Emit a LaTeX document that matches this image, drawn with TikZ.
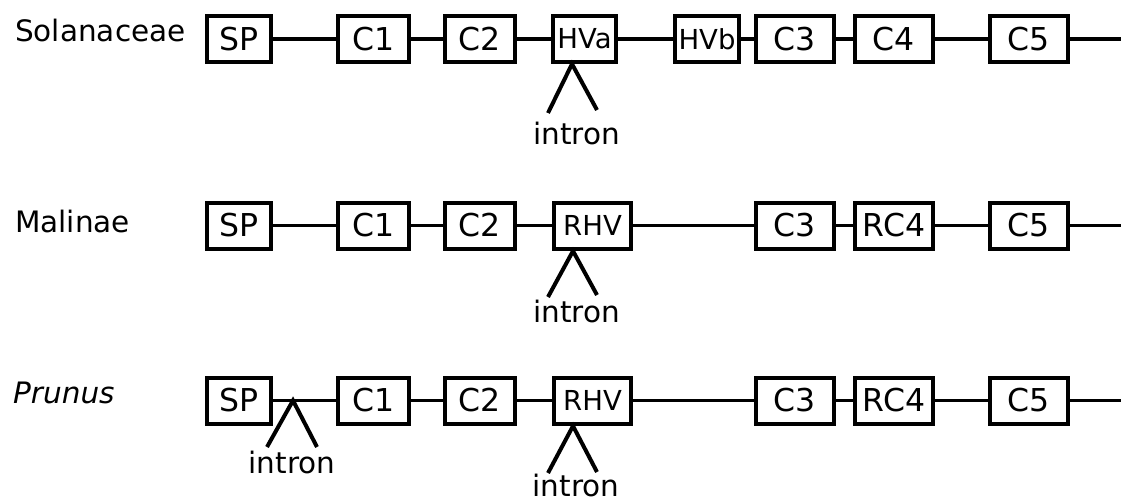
\documentclass[tikz,border=0pt]{standalone}
\usepackage{fontspec}
\setmainfont{DejaVu Sans}
\begin{document}
\begin{tikzpicture}[x=1pt,y=-1pt,
 gbox/.style={draw,line width=4pt,inner sep=0pt,minimum height=46pt,font=\fontsize{31.5}{36}\selectfont},
 hbox/.style={gbox,font=\fontsize{27.5}{32}\selectfont},
 link/.style={line width=3.5pt},
 leg/.style={line width=4pt},
 lbl/.style={anchor=base west,inner sep=0pt,font=\fontsize{29.5}{35}\selectfont},
 itxt/.style={anchor=base,inner sep=0pt,font=\fontsize{29.5}{35}\selectfont}]
\useasboundingbox (0,0) rectangle (1121,500);

% ---------- Row 1: Solanaceae ----------
\node[lbl] (l1) at (15,42) {Solanaceae};
\node[gbox,minimum width=64pt] (sp1) at (239,39) {SP};
\node[gbox,minimum width=71pt] (ca1) at (373.5,39) {C1};
\node[gbox,minimum width=70pt] (cb1) at (480,39) {C2};
\node[hbox,minimum width=63pt] (hva) at (584.5,39) {HVa};
\node[hbox,minimum width=64pt] (hvb) at (707,39) {HVb};
\node[gbox,minimum width=78pt] (cc1) at (795,39) {C3};
\node[gbox,minimum width=78pt] (cd1) at (894,39) {C4};
\node[gbox,minimum width=78pt] (ce1) at (1029,39) {C5};
\coordinate (e1) at (1121,39);
\draw[link] (sp1) -- (ca1);
\draw[link] (ca1) -- (cb1);
\draw[link] (cb1) -- (hva);
\draw[link] (hva) -- (hvb);
\draw[link] (hvb) -- (cc1);
\draw[link] (cc1) -- (cd1);
\draw[link] (cd1) -- (ce1);
\draw[link] (ce1.east) -- (e1);
\coordinate (ap1) at (572,64);
\coordinate (la1) at (548,113);
\coordinate (lb1) at (597,110);
\draw[leg] (la1) -- (ap1) -- (lb1);
\node[itxt] (it1) at (576.5,144) {intron};

% ---------- Row 2: Malinae ----------
\node[lbl] (l2) at (15,232) {Malinae};
\node[gbox,minimum width=64pt] (sp2) at (239,225.5) {SP};
\node[gbox,minimum width=71pt] (ca2) at (373.5,225.5) {C1};
\node[gbox,minimum width=70pt] (cb2) at (480,225.5) {C2};
\node[hbox,minimum width=77pt] (rh2) at (592.5,225.5) {RHV};
\node[gbox,minimum width=78pt] (cc2) at (795,225.5) {C3};
\node[gbox,minimum width=78pt] (cd2) at (894,225.5) {RC4};
\node[gbox,minimum width=78pt] (ce2) at (1029,225.5) {C5};
\coordinate (e2) at (1121,225.5);
\draw[link] (sp2) -- (ca2);
\draw[link] (ca2) -- (cb2);
\draw[link] (cb2) -- (rh2);
\draw[link] (rh2) -- (cc2);
\draw[link] (cc2) -- (cd2);
\draw[link] (cd2) -- (ce2);
\draw[link] (ce2.east) -- (e2);
\coordinate (ap2) at (573,251);
\coordinate (la2) at (548,297);
\coordinate (lb2) at (597,295);
\draw[leg] (la2) -- (ap2) -- (lb2);
\node[itxt] (it2) at (576.5,322) {intron};

% ---------- Row 3: Prunus ----------
\node[lbl,font=\fontsize{29.5}{35}\selectfont\itshape] (l3) at (13,403) {Prunus};
\node[gbox,minimum width=64pt] (sp3) at (239,400.5) {SP};
\node[gbox,minimum width=71pt] (ca3) at (373.5,400.5) {C1};
\node[gbox,minimum width=70pt] (cb3) at (480,400.5) {C2};
\node[hbox,minimum width=77pt] (rh3) at (592.5,400.5) {RHV};
\node[gbox,minimum width=78pt] (cc3) at (795,400.5) {C3};
\node[gbox,minimum width=78pt] (cd3) at (894,400.5) {RC4};
\node[gbox,minimum width=78pt] (ce3) at (1029,400.5) {C5};
\coordinate (e3) at (1121,400.5);
\draw[link] (sp3) -- (ca3);
\draw[link] (ca3) -- (cb3);
\draw[link] (cb3) -- (rh3);
\draw[link] (rh3) -- (cc3);
\draw[link] (cc3) -- (cd3);
\draw[link] (cd3) -- (ce3);
\draw[link] (ce3.east) -- (e3);
\coordinate (ap3a) at (293,400.5);
\coordinate (la3a) at (267,447);
\coordinate (lb3a) at (317,447);
\draw[leg] (la3a) -- (ap3a) -- (lb3a);
\node[itxt] (it3a) at (292,473) {intron};
\coordinate (ap3b) at (573,426);
\coordinate (la3b) at (548,473);
\coordinate (lb3b) at (597,472);
\draw[leg] (la3b) -- (ap3b) -- (lb3b);
\node[itxt] (it3b) at (576,496.5) {intron};
\end{tikzpicture}
\end{document}
